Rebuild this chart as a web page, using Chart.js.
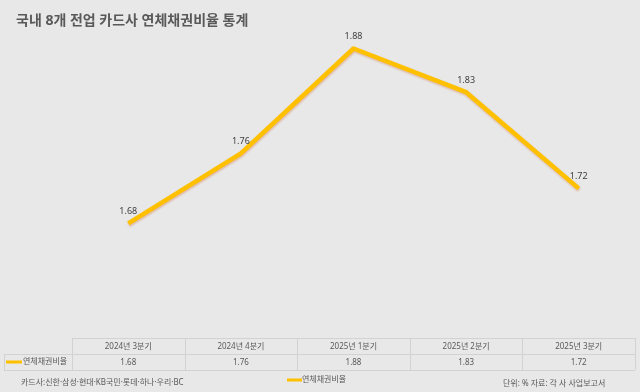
<!DOCTYPE html>
<html>
<head>
<meta charset="utf-8">
<script src="https://cdn.jsdelivr.net/npm/chart.js@4/dist/chart.umd.min.js"></script>
<style>
  html, body { margin: 0; padding: 0; background: #e8e8e8; }
  #wrap { width: 640px; height: 392px; }
</style>
</head>
<body>
<div id="wrap"><canvas id="myChart" width="640" height="392"></canvas></div>
<script>
var title = "국내 8개 전업 카드사 연체채권비율 통계";
var labels = ["2024년 3분기", "2024년 4분기", "2025년 1분기", "2025년 2분기", "2025년 3분기"];
var seriesName = "연체채권비율";
var rates = [1.68, 1.76, 1.88, 1.83, 1.72];
var noteLeft = "카드사:신한·삼성·현대·KB국민·롯데·하나·우리·BC";
var noteRight = "단위: % 자료: 각 사 사업보고서";

var FONT = '"Noto Sans", "Noto Sans CJK KR", sans-serif';
var GOLD = "#ffc000";

var decor = {
    id: "decor",
    beforeDraw: function (chart) {
        var c = chart.ctx;
        c.save();
        c.fillStyle = "#e8e8e8";
        c.fillRect(0, 0, chart.width, chart.height);
        c.restore();
    },
    beforeDatasetDraw: function (chart) {
        var c = chart.ctx;
        c.save();
        c.shadowColor = "rgba(210,90,20,0.35)";
        c.shadowBlur = 2;
        c.shadowOffsetX = 0.5;
        c.shadowOffsetY = 1.5;
    },
    afterDatasetDraw: function (chart) {
        chart.ctx.restore();
    },
    afterDraw: function (chart) {
        var c = chart.ctx;
        var x = chart.scales.x;
        var area = chart.chartArea;
        var colW = (area.right - area.left) / labels.length;
        c.save();

        // title
        c.fillStyle = "#595959";
        c.font = "bold 14px " + FONT;
        c.textBaseline = "middle";
        c.textAlign = "left";
        c.fillText(title, 16, 21);

        // data labels
        var meta = chart.getDatasetMeta(0);
        c.fillStyle = "#404040";
        c.font = "9px " + FONT;
        c.textAlign = "center";
        meta.data.forEach(function (pt, i) {
            c.fillText(rates[i].toFixed(2), pt.x, pt.y - 12);
        });

        // data table
        var top = 338, mid = 354, bot = 370;
        c.strokeStyle = "#d2d2d2";
        c.lineWidth = 1;
        c.beginPath();
        c.moveTo(area.left, top + 0.5); c.lineTo(area.right, top + 0.5);
        c.moveTo(4, mid + 0.5); c.lineTo(area.right, mid + 0.5);
        c.moveTo(4, bot + 0.5); c.lineTo(area.right, bot + 0.5);
        c.moveTo(4.5, mid); c.lineTo(4.5, bot);
        for (var i = 0; i <= labels.length; i++) {
            var bx = Math.round(area.left + i * colW) + 0.5;
            c.moveTo(bx, top); c.lineTo(bx, bot);
        }
        c.stroke();

        c.fillStyle = "#595959";
        c.font = "8px " + FONT;
        c.textAlign = "center";
        labels.forEach(function (lab, i) {
            var cx = x.getPixelForValue(i);
            c.fillText(lab, cx, (top + mid) / 2 + 1);
            c.fillText(rates[i].toFixed(2), cx, (mid + bot) / 2 + 1);
        });

        // row key
        c.strokeStyle = GOLD;
        c.lineWidth = 3;
        c.beginPath();
        c.moveTo(6, 362); c.lineTo(22, 362);
        c.stroke();
        c.textAlign = "left";
        c.fillText(seriesName, 23, 362);

        // footer
        c.fillText(noteLeft, 21, 383);
        c.beginPath();
        c.moveTo(287, 380); c.lineTo(302, 380);
        c.stroke();
        c.fillText(seriesName, 302, 380);
        c.fillText(noteRight, 503, 384);

        c.restore();
    }
};

var ctx = document.getElementById("myChart").getContext("2d");
var myLineChart = new Chart(ctx, {
    type: "line",
    data: {
        labels: labels,
        datasets: [
            {
                label: seriesName,
                data: rates,
                borderColor: GOLD,
                borderWidth: 4.5,
                borderJoinStyle: "round",
                pointRadius: 0,
                tension: 0,
                fill: false
            }
        ]
    },
    options: {
        responsive: false,
        animation: false,
        layout: { padding: { top: 31, bottom: 55, left: 72, right: 5 } },
        plugins: {
            legend: { display: false },
            tooltip: { enabled: false }
        },
        scales: {
            x: { display: false, offset: true },
            y: { display: false, min: 1.55, max: 1.9 }
        }
    },
    plugins: [decor]
});
</script>
</body>
</html>
